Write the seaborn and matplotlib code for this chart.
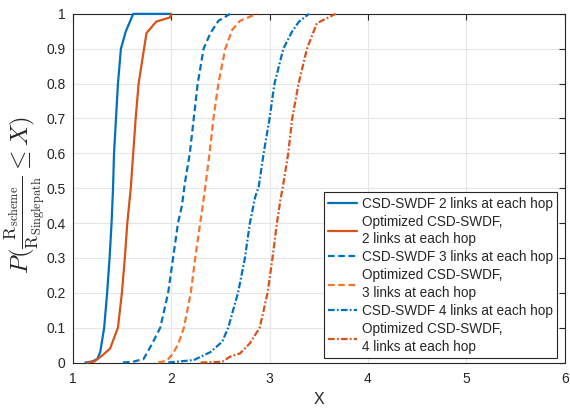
import numpy as np
import pandas as pd
import matplotlib
matplotlib.use("Agg")
import matplotlib.pyplot as plt
import seaborn as sns

# ─── data ─────────────────────────────────────────────────────────────────────
x_csd2 = [1.13, 1.20, 1.25, 1.28, 1.32, 1.35, 1.375, 1.395, 1.41, 1.42, 1.44,
          1.46, 1.49, 1.54, 1.615, 2.0]
y_csd2 = [0, 0.003, 0.01, 0.03, 0.10, 0.20, 0.30, 0.40, 0.50, 0.60, 0.70,
          0.80, 0.90, 0.95, 1.0, 1.0]

x_opt2 = [1.15, 1.22, 1.30, 1.38, 1.42, 1.46, 1.50, 1.53, 1.555, 1.59, 1.615,
          1.64, 1.67, 1.725, 1.75, 1.85, 1.99, 2.0]
y_opt2 = [0, 0.003, 0.02, 0.04, 0.07, 0.10, 0.20, 0.30, 0.40, 0.50, 0.60,
          0.70, 0.80, 0.90, 0.945, 0.978, 0.99, 1.0]

x_csd3 = [1.51, 1.61, 1.72, 1.80, 1.89, 1.97, 2.02, 2.07, 2.11, 2.14, 2.19,
          2.23, 2.27, 2.33, 2.40, 2.48, 2.60]
y_csd3 = [0, 0.002, 0.01, 0.05, 0.10, 0.20, 0.30, 0.40, 0.45, 0.515, 0.60,
          0.70, 0.80, 0.90, 0.945, 0.98, 1.0]

x_opt3 = [1.87, 1.955, 2.02, 2.075, 2.13, 2.20, 2.245, 2.295, 2.32, 2.35, 2.39,
          2.43, 2.48, 2.55, 2.62, 2.70, 2.87]
y_opt3 = [0, 0.005, 0.026, 0.055, 0.10, 0.20, 0.30, 0.40, 0.447, 0.51, 0.60,
          0.70, 0.80, 0.90, 0.954, 0.98, 1.0]

x_csd4 = [1.97, 2.23, 2.40, 2.52, 2.58, 2.68, 2.75, 2.80, 2.855, 2.89, 2.94,
          3.00, 3.05, 3.14, 3.23, 3.30, 3.40]
y_csd4 = [0, 0.007, 0.03, 0.06, 0.10, 0.20, 0.30, 0.40, 0.476, 0.504, 0.60,
          0.70, 0.80, 0.90, 0.95, 0.978, 1.0]

x_opt4 = [2.30, 2.52, 2.60, 2.70, 2.80, 2.90, 2.98, 3.03, 3.075, 3.11, 3.135,
          3.19, 3.23, 3.295, 3.38, 3.48, 3.67]
y_opt4 = [0, 0.002, 0.017, 0.026, 0.055, 0.10, 0.20, 0.30, 0.40, 0.466, 0.504,
          0.60, 0.70, 0.80, 0.90, 0.973, 1.0]

labels = [
    "CSD-SWDF 2 links at each hop",
    "Optimized CSD-SWDF,\n2 links at each hop",
    "CSD-SWDF 3 links at each hop",
    "Optimized CSD-SWDF,\n3 links at each hop",
    "CSD-SWDF 4 links at each hop",
    "Optimized CSD-SWDF,\n4 links at each hop",
]
x_ticks = [1, 2, 3, 4, 5, 6]
y_ticks = [0, 0.1, 0.2, 0.3, 0.4, 0.5, 0.6, 0.7, 0.8, 0.9, 1]
y_ticklabels = ["0", "0.1", "0.2", "0.3", "0.4", "0.5", "0.6", "0.7", "0.8", "0.9", "1"]

BLUE = "#0072BD"
RED = "#D95319"
ORANGE = "#F7742F"
INK = "#262626"

series = [
    (x_csd2, y_csd2, BLUE, "-"),
    (x_opt2, y_opt2, RED, "-"),
    (x_csd3, y_csd3, BLUE, (0, (3.0, 1.6))),
    (x_opt3, y_opt3, ORANGE, (0, (3.0, 1.6))),
    (x_csd4, y_csd4, BLUE, (0, (3.0, 1.0, 0.8, 1.0))),
    (x_opt4, y_opt4, RED, (0, (3.0, 1.0, 0.8, 1.0))),
]

sns.set_style("white")
plt.rcParams["font.family"] = ["Liberation Sans", "DejaVu Sans"]
plt.rcParams["mathtext.fontset"] = "cm"

fig = plt.figure(figsize=(5.7, 4.08), dpi=100)
ax = fig.add_axes([0.1275, 0.1115, 0.8635, 0.8545])

for (xs, ys, col, ls), lab in zip(series, labels):
    df = pd.DataFrame({"x": xs, "y": ys})
    sns.lineplot(data=df, x="x", y="y", ax=ax, color=col, linestyle=ls,
                 linewidth=1.6, label=lab, sort=False, estimator=None)
for ln in ax.get_lines():
    ln.set_clip_on(False)
    ln.set_zorder(5)

ax.set_xlim(1, 6)
ax.set_ylim(0, 1)
ax.set_xticks(x_ticks)
ax.set_yticks(y_ticks)
ax.set_yticklabels(y_ticklabels)
ax.grid(True, color="#e6e6e6", linewidth=0.8)
ax.set_axisbelow(True)
for sp in ax.spines.values():
    sp.set_visible(True)
    sp.set_color(INK)
    sp.set_linewidth(0.8)
    sp.set_zorder(4)
ax.tick_params(direction="in", length=4, width=0.8, colors=INK,
               labelsize=10, top=True, right=True)
ax.tick_params(axis="x", pad=7)
ax.tick_params(axis="y", pad=5)

ax.set_xlabel("X", fontsize=11.5, color=INK, labelpad=4)
ax.set_ylabel(r"$P(\frac{\mathrm{R}_{\mathrm{scheme}}}{\mathrm{R}_{\mathrm{Singlepath}}}\leq X)$",
              fontsize=18, color=INK, labelpad=0)
ax.yaxis.set_label_coords(-0.05, 0.48)

leg = ax.legend(loc="lower right", bbox_to_anchor=(0.984, 0.014), borderaxespad=0,
                fontsize=9.8, frameon=True, fancybox=False, edgecolor=INK,
                framealpha=1, handlelength=2.1, handletextpad=0.35,
                labelspacing=0.3, borderpad=0.3)
leg.get_frame().set_linewidth(0.8)
leg.set_zorder(10)
for t in leg.get_texts():
    t.set_linespacing(1.32)

fig.savefig("out.png", dpi=100)
